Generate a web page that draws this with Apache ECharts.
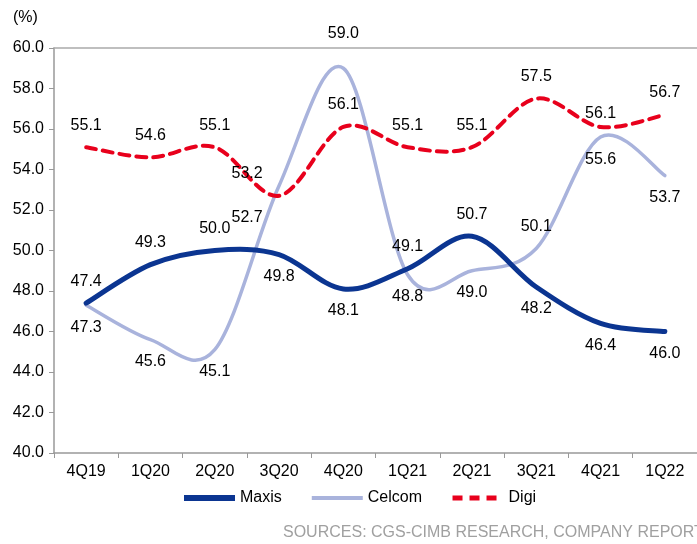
<!DOCTYPE html>
<html>
<head>
<meta charset="utf-8">
<script src="https://cdn.jsdelivr.net/npm/echarts@6/dist/echarts.min.js"></script>
<style>
  html, body { margin: 0; padding: 0; background: #fff; }
  #chart { width: 697px; height: 544px; }
</style>
</head>
<body>
<div id="chart"></div>
<script>
// 季度
var quarters = ["4Q19", "1Q20", "2Q20", "3Q20", "4Q20", "1Q21", "2Q21", "3Q21", "4Q21", "1Q22"];
// 各运营商数值 (%)
var maxis = [47.4, 49.3, 50.0, 49.8, 48.1, 49.1, 50.7, 48.2, 46.4, 46.0];
var celcom = [47.3, 45.6, 45.1, 53.2, 59.0, 48.8, 49.0, 50.1, 55.6, 53.7];
var digi = [55.1, 54.6, 55.1, 52.7, 56.1, 55.1, 55.1, 57.5, 56.1, 56.7];
// 标签位置
var maxisPos = ["top", "top", "top", "bottom", "bottom", "top", "top", "bottom", "bottom", "bottom"];
var celcomPos = ["bottom", "bottom", "bottom", "top", "top", "bottom", "bottom", "top", "bottom", "bottom"];
var digiPos = ["top", "top", "top", "bottom", "top", "top", "top", "top", "top", "top"];
// 个别标签微调 {索引: {distance, offset}}
var celcomTweak = { 3: { distance: 4, offset: [-32, 0] }, 4: { distance: 27 } };
var digiTweak = { 3: { offset: [-32, 0] }, 8: { distance: 5 } };

var FONT = "Liberation Sans, Arial";

function withLabels(values, pos, tweak) {
  return values.map(function (v, i) {
    var lab = { position: pos[i] };
    var t = tweak && tweak[i];
    if (t) {
      if (t.distance != null) lab.distance = t.distance;
      if (t.offset) lab.offset = t.offset;
    }
    return { value: v, label: lab };
  });
}

var labelStyle = {
  show: true,
  color: "#000",
  fontFamily: FONT,
  fontSize: 16,
  distance: 14,
  formatter: function (p) { return p.value.toFixed(1); }
};

// Excel 风格平滑曲线 (Catmull-Rom -> Bezier)
function curveSeries(values, lineStyle, z) {
  return {
    type: "custom",
    name: "_curve",
    silent: true,
    z: z,
    data: values.map(function (v, i) { return [i, v]; }),
    renderItem: function (params, api) {
      if (params.dataIndex !== 0) return null;
      var pts = values.map(function (v, i) { return api.coord([i, v]); });
      var n = pts.length;
      var d = "M" + pts[0][0] + " " + pts[0][1];
      for (var i = 0; i < n - 1; i++) {
        var p0 = pts[Math.max(i - 1, 0)], p1 = pts[i], p2 = pts[i + 1], p3 = pts[Math.min(i + 2, n - 1)];
        var c1x = p1[0] + (p2[0] - p0[0]) / 6, c1y = p1[1] + (p2[1] - p0[1]) / 6;
        var c2x = p2[0] - (p3[0] - p1[0]) / 6, c2y = p2[1] - (p3[1] - p1[1]) / 6;
        d += " C" + c1x + " " + c1y + " " + c2x + " " + c2y + " " + p2[0] + " " + p2[1];
      }
      return {
        type: "path",
        shape: { pathData: d },
        style: {
          fill: null,
          stroke: lineStyle.color,
          lineWidth: lineStyle.width,
          lineDash: lineStyle.dash || null,
          lineCap: "round",
          lineJoin: "round"
        }
      };
    }
  };
}

function labelSeries(name, values, pos, tweak, color) {
  return {
    name: name,
    type: "line",
    symbol: "circle",
    symbolSize: 0.1,
    data: withLabels(values, pos, tweak),
    lineStyle: { color: color, opacity: 0 },
    itemStyle: { color: color },
    label: labelStyle,
    z: 10
  };
}

var chart = echarts.init(document.getElementById("chart"));
chart.setOption({
  animation: false,
  textStyle: { fontFamily: FONT },
  grid: { left: 54, right: 0, top: 48, bottom: 91 },
  legend: {
    left: 176,
    top: 485,
    itemWidth: 51,
    itemHeight: 16,
    itemGap: 28,
    itemStyle: { opacity: 0 },
    textStyle: { fontSize: 16, color: "#000", fontFamily: FONT },
    data: [
      { name: "Maxis", lineStyle: { width: 6, opacity: 1 } },
      { name: "Celcom", lineStyle: { width: 4, opacity: 1 } },
      { name: "Digi", lineStyle: { width: 5, opacity: 1, type: [10, 7] } }
    ]
  },
  xAxis: [
    {
      type: "category",
      data: quarters,
      axisLine: { lineStyle: { color: "#999", width: 1.5 } },
      axisTick: { show: true, length: 5, lineStyle: { color: "#999" } },
      axisLabel: { color: "#000", fontSize: 16, margin: 11 }
    },
    {
      // 顶部边线
      type: "category",
      position: "top",
      data: quarters,
      axisLine: { show: true, lineStyle: { color: "#aaa", width: 1.5 } },
      axisTick: { show: false },
      axisLabel: { show: false }
    }
  ],
  yAxis: {
    type: "value",
    min: 40,
    max: 60,
    interval: 2,
    axisLine: { show: true, lineStyle: { color: "#999", width: 1.5 } },
    axisTick: { show: true, length: 5, lineStyle: { color: "#999" } },
    splitLine: { show: false },
    axisLabel: {
      color: "#000",
      fontSize: 16,
      margin: 10,
      formatter: function (v) { return v.toFixed(1); }
    }
  },
  graphic: [
    {
      type: "text",
      left: 13,
      top: 10,
      style: { text: "(%)", fontSize: 16, fill: "#000", fontFamily: FONT }
    },
    {
      type: "text",
      left: 283,
      top: 525,
      style: {
        text: "SOURCES: CGS-CIMB RESEARCH, COMPANY REPORTS",
        fontSize: 16,
        fill: "#a0a0a0",
        fontFamily: FONT
      }
    }
  ],
  series: [
    curveSeries(celcom, { color: "#a9b3dc", width: 3.5 }, 3),
    curveSeries(maxis, { color: "#0b3591", width: 5 }, 4),
    curveSeries(digi, { color: "#e8001c", width: 4, dash: [10, 7] }, 5),
    labelSeries("Maxis", maxis, maxisPos, null, "#0b3591"),
    labelSeries("Celcom", celcom, celcomPos, celcomTweak, "#a9b3dc"),
    labelSeries("Digi", digi, digiPos, digiTweak, "#e8001c")
  ]
});
</script>
</body>
</html>
